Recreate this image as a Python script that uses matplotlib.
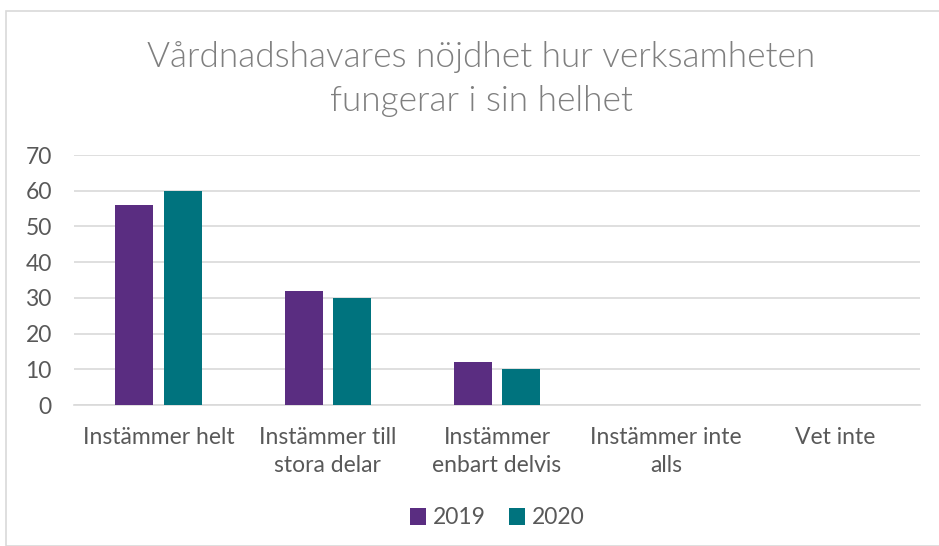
import matplotlib
matplotlib.use("Agg")
import matplotlib.pyplot as plt
import numpy as np
from matplotlib.patches import Rectangle

categories = ["Instämmer helt", "Instämmer till\nstora delar", "Instämmer\nenbart delvis", "Instämmer inte\nalls", "Vet inte"]
series_names = ["2019", "2020"]
values_2019 = [56, 32, 12, 0, 0]
values_2020 = [60, 30, 10, 0, 0]
colors = ["#5A2D81", "#00737E"]
yticks = [0, 10, 20, 30, 40, 50, 60, 70]
title = "Vårdnadshavares nöjdhet hur verksamheten\nfungerar i sin helhet"

plt.rcParams['font.family'] = ['Lato', 'DejaVu Sans']
text_color = "#595959"

fig = plt.figure(figsize=(9.39, 5.46), dpi=100)
fig.patches.append(Rectangle((6/939, 0), 1, 1 - 11/546, transform=fig.transFigure,
                             fill=False, edgecolor="#d9d9d9", linewidth=1.2, zorder=0))
ax = fig.add_axes([74/939, 1 - 405/546, (920 - 74)/939, (405 - 155)/546])

x = np.arange(len(categories))
w = 0.225
off = 0.143
ax.bar(x - off, values_2019, width=w, color=colors[0], label=series_names[0], zorder=3)
ax.bar(x + off, values_2020, width=w, color=colors[1], label=series_names[1], zorder=3)

ax.set_xlim(-0.5, len(categories) - 0.5)
ax.set_ylim(0, 70)
ax.set_yticks(yticks)
ax.yaxis.grid(True, color="#d9d9d9", linewidth=1.2, zorder=0)
ax.set_axisbelow(True)
for s in ["top", "right", "left"]:
    ax.spines[s].set_visible(False)
ax.spines["bottom"].set_color("#d9d9d9")
ax.spines["bottom"].set_linewidth(1.2)
ax.tick_params(axis="both", length=0, labelsize=16.5, labelcolor=text_color)
ax.tick_params(axis="y", pad=16)
ax.tick_params(axis="x", pad=16)
ax.set_xticks(x)
ax.set_xticklabels(categories, linespacing=1.4)

fig.text(481/939, 1 - 79/546, title, ha="center", va="center", fontsize=25.3,
         color="#7f7f7f", linespacing=1.45, fontweight=300)

ax.legend(loc="center", bbox_to_anchor=(0.5, (405 - 518) / 250), bbox_transform=ax.transAxes,
          ncol=2, frameon=False, fontsize=16.5, handlelength=0.7, handleheight=0.7,
          handletextpad=0.3, columnspacing=1.0, labelcolor=text_color)

fig.savefig("out.png", dpi=100)
